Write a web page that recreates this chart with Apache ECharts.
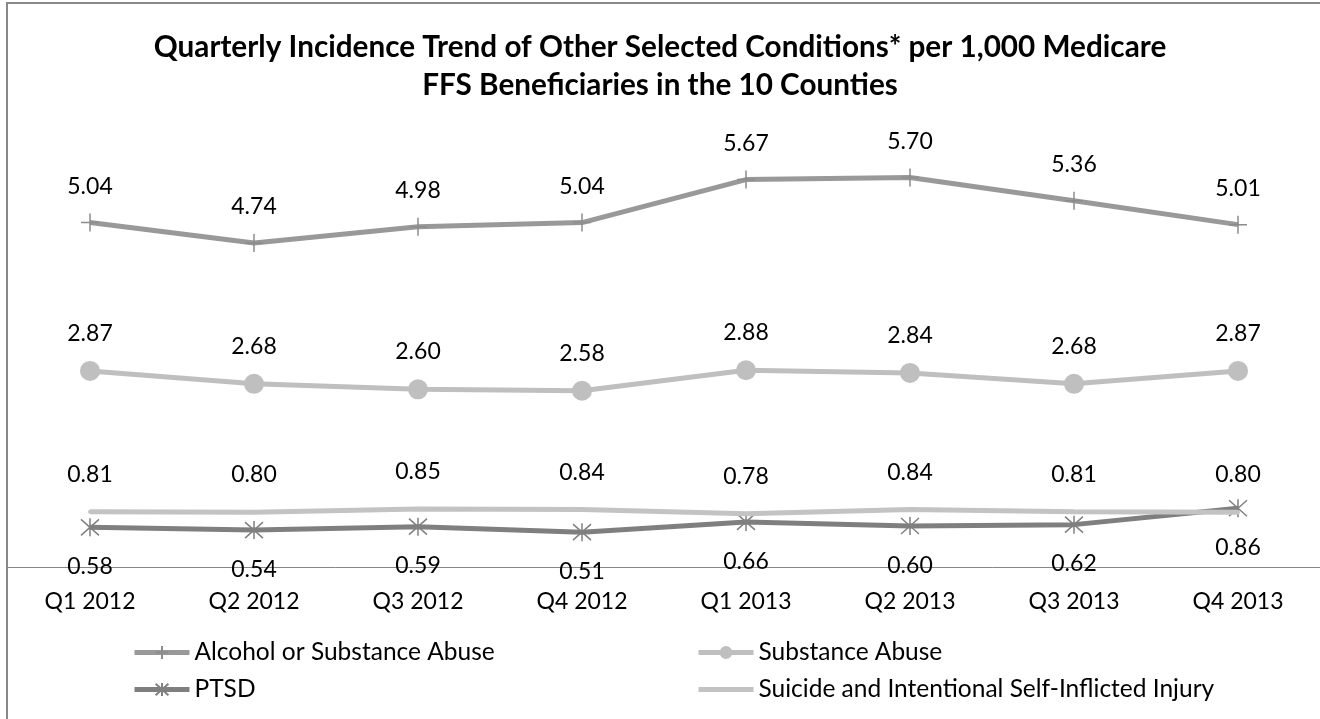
<!DOCTYPE html>
<html>
<head>
<meta charset="utf-8">
<script src="https://cdn.jsdelivr.net/npm/echarts@6/dist/echarts.min.js"></script>
<style>
  html, body { margin: 0; padding: 0; background: #fff; }
  #chart { width: 1320px; height: 719px; }
</style>
</head>
<body>
<div id="chart"></div>
<script>
// Quarters on the x axis
const quarters = ['Q1 2012', 'Q2 2012', 'Q3 2012', 'Q4 2012', 'Q1 2013', 'Q2 2013', 'Q3 2013', 'Q4 2013'];

// Incidence per 1,000 beneficiaries
const alcoholOrSubstance = [5.04, 4.74, 4.98, 5.04, 5.67, 5.70, 5.36, 5.01];
const substanceAbuse     = [2.87, 2.68, 2.60, 2.58, 2.88, 2.84, 2.68, 2.87];
const ptsd               = [0.58, 0.54, 0.59, 0.51, 0.66, 0.60, 0.62, 0.86];
const suicideSelfInjury  = [0.81, 0.80, 0.85, 0.84, 0.78, 0.84, 0.81, 0.80];

const seriesNames = [
  'Alcohol or Substance Abuse',
  'Substance Abuse',
  'PTSD',
  'Suicide and Intentional Self-Inflicted Injury'
];

const FONT = 'Lato, "Open Sans", sans-serif';

const plusSymbol = 'path://M0,-9L0,9M-9,0L9,0';
const starSymbol = 'path://M0,-9L0,9M-8,-8L8,8M-8,8L8,-8';

function labelStyle(pos, dist) {
  return {
    show: true,
    position: pos,
    distance: dist,
    color: '#000',
    fontFamily: FONT,
    fontSize: 23,
    formatter: p => p.value.toFixed(2)
  };
}

const legendText = { color: '#000', fontFamily: FONT, fontSize: 24.5, lineHeight: 25 };

const chart = echarts.init(document.getElementById('chart'), null, { renderer: 'canvas' });

chart.setOption({
  animation: false,
  backgroundColor: '#fff',
  title: {
    text: 'Quarterly Incidence Trend of Other Selected Conditions* per 1,000 Medicare\nFFS Beneficiaries in the 10 Counties',
    left: 'center',
    top: 23,
    textStyle: {
      fontFamily: FONT,
      fontWeight: 'bold',
      fontSize: 29.7,
      lineHeight: 38,
      color: '#000'
    }
  },
  graphic: [{
    type: 'rect',
    shape: { x: 7, y: 3, width: 1340, height: 740 },
    style: { fill: 'none', stroke: '#898989', lineWidth: 2 },
    z: -1
  }],
  grid: { left: 8, right: 0, top: 157, height: 410, containLabel: false },
  xAxis: {
    type: 'category',
    data: quarters,
    boundaryGap: true,
    axisLine: { show: true, lineStyle: { color: '#868686', width: 1 } },
    axisTick: { show: false },
    axisLabel: { color: '#000', fontFamily: FONT, fontSize: 23, margin: 23 },
    splitLine: { show: false }
  },
  yAxis: {
    type: 'value',
    min: 0,
    max: 6,
    show: false
  },
  legend: [{
    orient: 'vertical',
    left: 127,
    top: 635,
    itemWidth: 55,
    itemHeight: 16,
    itemGap: 12,
    lineStyle: { width: 5 },
    data: [seriesNames[0], seriesNames[2]],
    textStyle: legendText
  }, {
    orient: 'vertical',
    left: 691,
    top: 635,
    itemWidth: 55,
    itemHeight: 16,
    itemGap: 12,
    lineStyle: { width: 5 },
    data: [
      seriesNames[1],
      { name: seriesNames[3], itemStyle: { opacity: 0 } }
    ],
    textStyle: legendText
  }],
  series: [{
    name: seriesNames[0],
    type: 'line',
    data: alcoholOrSubstance,
    symbol: plusSymbol,
    symbolSize: 18,
    lineStyle: { color: '#999999', width: 5 },
    itemStyle: { color: '#8c8c8c', borderColor: '#8c8c8c', borderWidth: 1.5 },
    label: labelStyle('top', 15),
    z: 2
  }, {
    name: seriesNames[1],
    type: 'line',
    data: substanceAbuse,
    symbol: 'circle',
    symbolSize: 20,
    lineStyle: { color: '#bfbfbf', width: 5 },
    itemStyle: { color: '#bfbfbf', borderWidth: 0 },
    label: labelStyle('top', 16),
    z: 2
  }, {
    name: seriesNames[2],
    type: 'line',
    data: ptsd,
    symbol: starSymbol,
    symbolSize: 18,
    lineStyle: { color: '#7f7f7f', width: 5 },
    itemStyle: { color: '#808080', borderColor: '#808080', borderWidth: 1.5 },
    label: labelStyle('bottom', 18),
    z: 3
  }, {
    name: seriesNames[3],
    type: 'line',
    data: suicideSelfInjury,
    symbol: 'circle',
    symbolSize: 4,
    lineStyle: { color: '#c3c3c3', width: 5 },
    itemStyle: { color: '#c3c3c3' },
    label: labelStyle('top', 24),
    z: 4
  }]
});
</script>
</body>
</html>
